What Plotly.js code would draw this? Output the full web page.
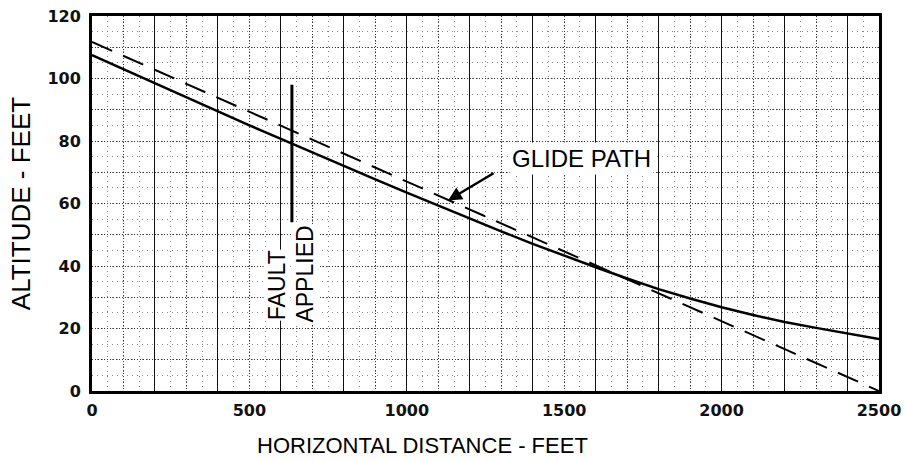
<!DOCTYPE html>
<html>
<head>
<meta charset="utf-8">
<script src="https://cdn.plot.ly/plotly-3.0.1.min.js"></script>
<style>html,body{margin:0;padding:0;background:#fff;}#chart{width:905px;height:461px;}</style>
</head>
<body>
<div id="chart"></div>
<script>
// Altitude vs horizontal distance (feet)
const distanceFt = [0,100,200,300,400,500,600,700,800,900,1000,1100,1200,1300,1400,1500,1600,1700,1800,1900,2000,2100,2200,2300,2400,2500];
const altitudeFt = [107.5,103.0,98.5,93.9,89.4,85.0,80.7,76.3,72.0,67.7,63.5,59.3,55.2,51.1,47.1,43.3,39.6,36.0,32.6,29.6,26.8,24.3,22.1,20.2,18.4,16.6];
const glideX = [0, 2500];
const glideY = [111.7, 0];
const faultX = [635, 635];
const faultY = [98, 54];
const glideArrowPoint = [1131, 61];

const xTickVals = [0,100,200,300,400,500,600,700,800,900,1000,1100,1200,1300,1400,1500,1600,1700,1800,1900,2000,2100,2200,2300,2400,2500];
const xTickText = ['0','','','','','500','','','','','1000','','','','','1500','','','','','2000','','','','','2500'];
const yTickVals = [0,10,20,30,40,50,60,70,80,90,100,110,120];
const yTickText = ['0','','20','','40','','60','','80','','100','','120'];

const tickFont = {family:'DejaVu Sans, Liberation Sans, sans-serif', size:16, weight:'bold', color:'#111'};

const traces = [
  {x: distanceFt, y: altitudeFt, type:'scatter', mode:'lines', line:{color:'#000', width:2.5}, hoverinfo:'skip', xaxis:'x', yaxis:'y'},
  {x: glideX, y: glideY, type:'scatter', mode:'lines', line:{color:'#000', width:2, dash:'22px,12px'}, hoverinfo:'skip', xaxis:'x2', yaxis:'y'},
  {x: faultX, y: faultY, type:'scatter', mode:'lines', line:{color:'#000', width:3}, hoverinfo:'skip', xaxis:'x', yaxis:'y'}
];

const layout = {
  width:905, height:461,
  margin:{l:92, r:26, t:16, b:70},
  paper_bgcolor:'#fff', plot_bgcolor:'#fff',
  showlegend:false,
  xaxis:{
    range:[0,2500], autorange:false,
    tickmode:'array', tickvals:xTickVals, ticktext:xTickText,
    tickfont:tickFont, ticks:'', ticklabelstandoff:3,
    showgrid:true, gridcolor:'#333', gridwidth:1, griddash:'1px,2px',
    minor:{tick0:0, dtick:50, showgrid:true, gridcolor:'#888', gridwidth:1, griddash:'1px,4px', ticks:''},
    zeroline:false,
    showline:true, linecolor:'#000', linewidth:3, mirror:true
  },
  xaxis2:{
    overlaying:'x', range:[0,2500], autorange:false,
    tick0:0, dtick:200, showticklabels:false, ticks:'',
    showgrid:true, gridcolor:'#111', gridwidth:1,
    zeroline:false, showline:false
  },
  yaxis:{
    range:[0,120], autorange:false,
    tickmode:'array', tickvals:yTickVals, ticktext:yTickText,
    tickfont:tickFont, ticks:'', ticklabelstandoff:5,
    showgrid:true, gridcolor:'#333', gridwidth:1, griddash:'1px,2px',
    minor:{tick0:0, dtick:5, showgrid:true, gridcolor:'#888', gridwidth:1, griddash:'1px,4px', ticks:''},
    zeroline:false,
    showline:true, linecolor:'#000', linewidth:3, mirror:true,
    title:{text:'ALTITUDE - FEET', font:{family:'Liberation Sans, Arial, sans-serif', size:26, color:'#000'}, standoff:10}
  },
  annotations:[
    {x:0.42, y:-0.145, xref:'paper', yref:'paper', xanchor:'center', yanchor:'middle', text:'HORIZONTAL DISTANCE - FEET', showarrow:false,
     font:{family:'Liberation Sans, Arial, sans-serif', size:22, color:'#000'}},
    {x:glideArrowPoint[0], y:glideArrowPoint[1], xref:'x', yref:'y', text:'', showarrow:true,
     ax:47, ay:-28, arrowhead:2, arrowsize:1.1, arrowwidth:2.5, arrowcolor:'#000'},
    {x:1556, y:74.5, xref:'x', yref:'y', text:'GLIDE PATH', showarrow:false,
     font:{family:'Liberation Sans, Arial, sans-serif', size:24, color:'#000'}, bgcolor:'#fff', borderpad:2},
    {x:588, y:33.9, xref:'x', yref:'y', text:'FAULT', textangle:-90, showarrow:false,
     font:{family:'Liberation Sans, Arial, sans-serif', size:23, color:'#000'}, bgcolor:'#fff', borderpad:0},
    {x:677, y:37.3, xref:'x', yref:'y', text:'APPLIED', textangle:-90, showarrow:false,
     font:{family:'Liberation Sans, Arial, sans-serif', size:23, color:'#000'}, bgcolor:'#fff', borderpad:0}
  ]
};

Plotly.newPlot('chart', traces, layout, {staticPlot:true, displayModeBar:false});
</script>
</body>
</html>
